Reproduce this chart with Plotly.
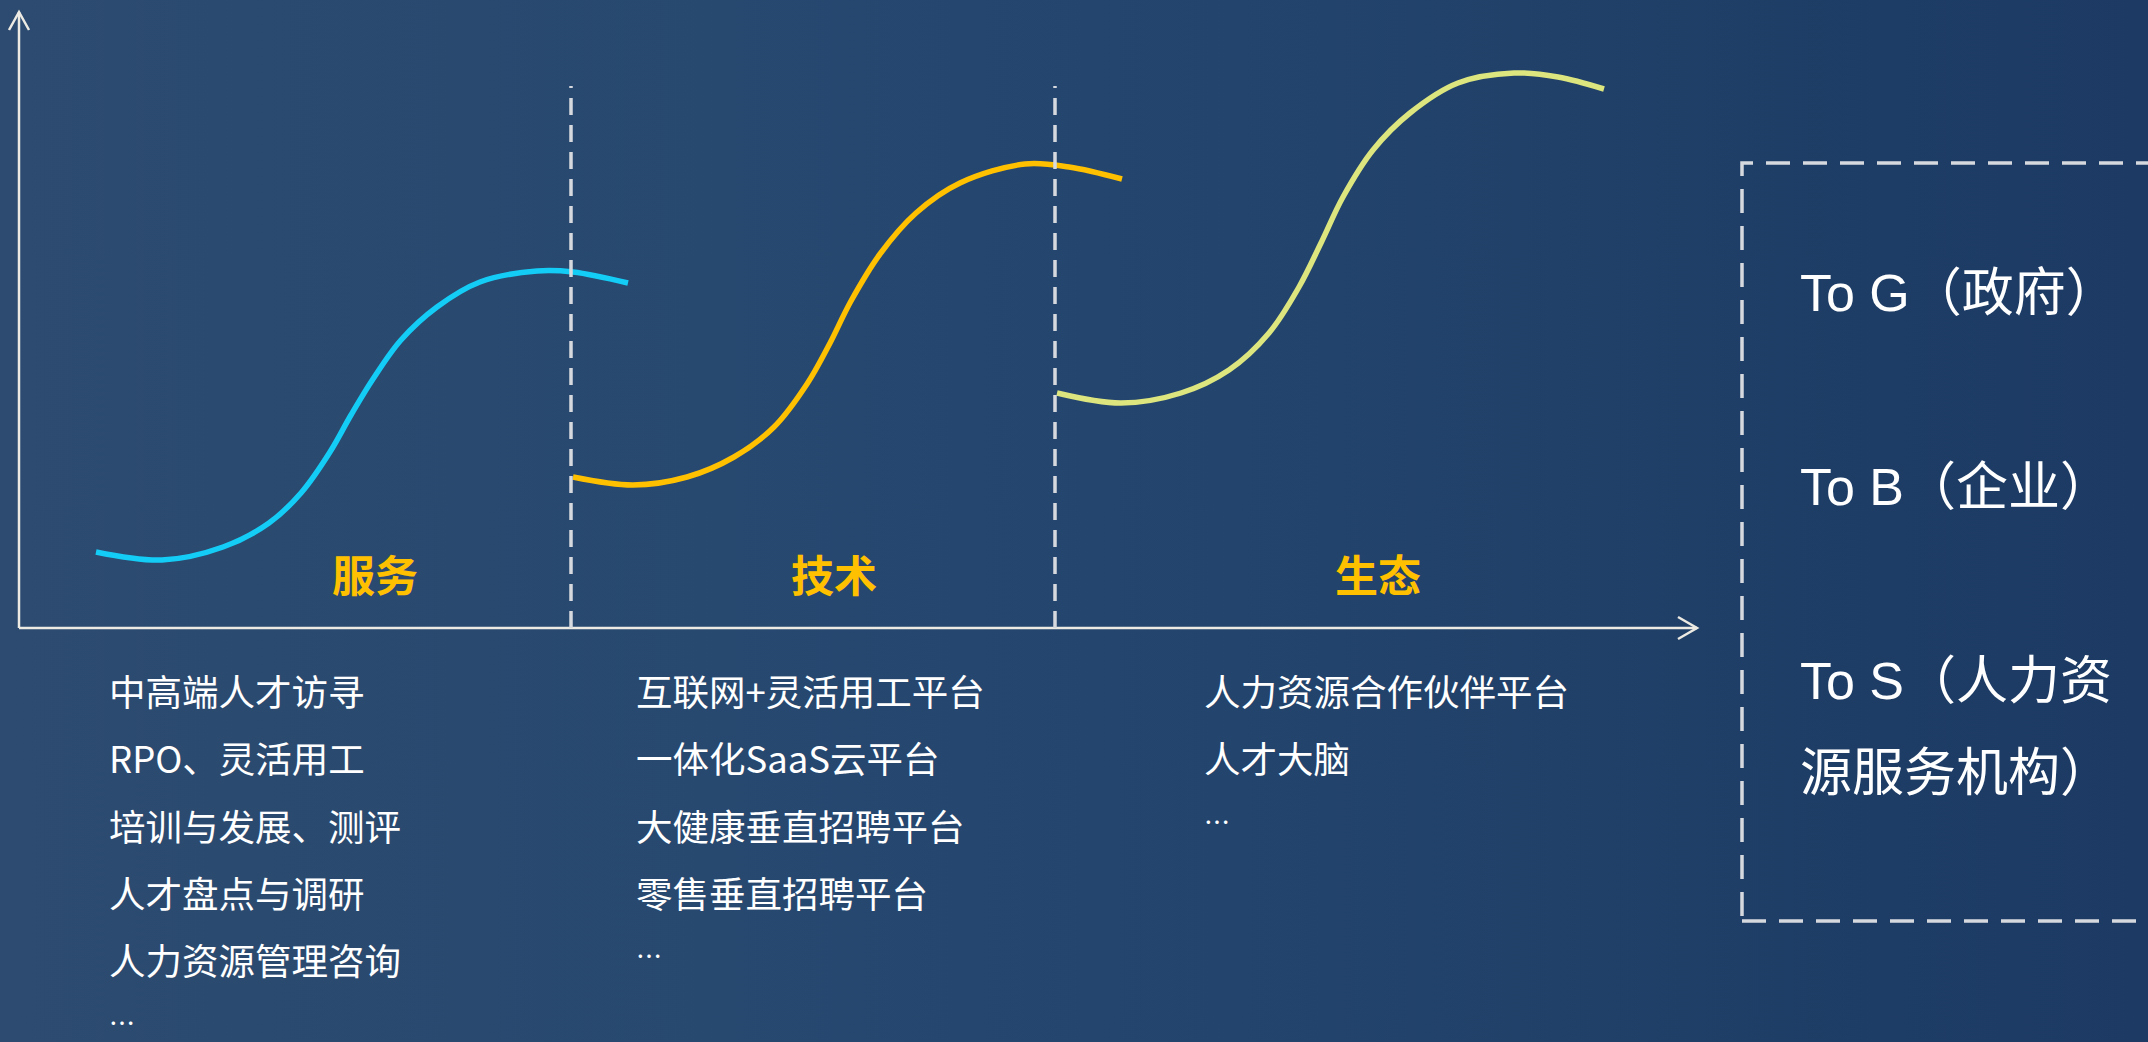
import plotly.graph_objects as go

# ---- data (schematic units: x to the right of the y-axis, y above the x-axis) ----
stage_names = ["服务", "技术", "生态"]
stage_label_x = [356, 815, 1359]
stage_label_y = 55

blue_x = [77, 143, 204, 250, 282, 311, 332, 354, 382, 418, 461, 518, 554, 609]
blue_y = [76, 68, 81, 105, 135, 176, 213, 249, 288, 321, 346, 357, 356, 345]

orange_x = [554, 614, 668, 715, 755, 788, 810, 832, 861, 897, 941, 1006, 1050, 1103]
orange_y = [151, 143, 151, 171, 201, 244, 283, 327, 374, 415, 445, 464, 461, 449]

green_x = [1038, 1102, 1162, 1210, 1250, 1280, 1302, 1324, 1354, 1391, 1439, 1495, 1539, 1585]
green_y = [235, 225, 235, 258, 295, 341, 385, 431, 478, 515, 545, 555, 551, 539]

divider_x = [552, 1036]
divider_top = 542

col1_items = ["中高端人才访寻", "RPO、灵活用工", "培训与发展、测评", "人才盘点与调研", "人力资源管理咨询", "…"]
col2_items = ["互联网+灵活用工平台", "一体化SaaS云平台", "大健康垂直招聘平台", "零售垂直招聘平台", "…"]
col3_items = ["人力资源合作伙伴平台", "人才大脑", "…"]
col_x = [88, 615, 1183]
row_y = [-62, -129, -197, -264, -331, -398]

target_items = ["To G（政府）", "To B（企业）", "To S（人力资", "源服务机构）"]
target_x = 1779
target_y = [335, 141, -53, -145]
box_left, box_right, box_top, box_bottom = 1723, 2145, 465, -293

x_range = [-19, 2129]
y_range = [-414, 628]
y_axis_top = 616
x_axis_end = 1678

AXIS_COLOR = "#ECEAE2"
DASH_COLOR = "#D6D9DE"

fig = go.Figure()

# background gradient
fig.add_trace(go.Scatter(
    x=[x_range[0], x_range[1], x_range[1], x_range[0], x_range[0]],
    y=[y_range[0], y_range[0], y_range[1], y_range[1], y_range[0]],
    mode="lines", line=dict(width=0), fill="toself",
    fillgradient=dict(type="horizontal",
                      colorscale=[[0, "#2d4b70"], [0.45, "#25476f"], [1, "#1c3a63"]]),
    hoverinfo="skip", showlegend=False))

# curves
for xs, ys, col in [(blue_x, blue_y, "#14CDF7"),
                    (orange_x, orange_y, "#FFC000"),
                    (green_x, green_y, "#DCE57E")]:
    fig.add_trace(go.Scatter(x=xs, y=ys, mode="lines",
                             line=dict(color=col, width=5.5, shape="spline", smoothing=1.0),
                             hoverinfo="skip", showlegend=False))

shapes = []
# axes
shapes.append(dict(type="line", x0=0, y0=0, x1=0, y1=y_axis_top, line=dict(color=AXIS_COLOR, width=2.5)))
shapes.append(dict(type="line", x0=0, y0=0, x1=x_axis_end, y1=0, line=dict(color=AXIS_COLOR, width=2.5)))
shapes.append(dict(type="path",
                   path=f"M -10 {y_axis_top-18} L 0 {y_axis_top} L 10 {y_axis_top-18}",
                   line=dict(color=AXIS_COLOR, width=2.5)))
shapes.append(dict(type="path",
                   path=f"M {x_axis_end-19} 11 L {x_axis_end} 0 L {x_axis_end-19} -11",
                   line=dict(color=AXIS_COLOR, width=2.5)))
# dividers
for dx in divider_x:
    shapes.append(dict(type="line", x0=dx, y0=0, x1=dx, y1=divider_top,
                       line=dict(color=DASH_COLOR, width=3.5, dash="17px,10px")))
# right dashed box
shapes.append(dict(type="rect", x0=box_left, x1=box_right, y0=box_bottom, y1=box_top,
                   line=dict(color=DASH_COLOR, width=3.5, dash="24px,13px")))

annotations = []
for name, sx in zip(stage_names, stage_label_x):
    annotations.append(dict(x=sx, y=stage_label_y, text=f"<b>{name}</b>", showarrow=False,
                            font=dict(family="Noto Sans CJK SC", size=43, color="#FFC000"),
                            xanchor="center", yanchor="middle"))

for cx, items in zip(col_x, [col1_items, col2_items, col3_items]):
    for ry, txt in zip(row_y, items):
        if txt == "…":
            annotations.append(dict(x=cx, y=ry, text=txt, showarrow=False,
                                    font=dict(family="Noto Sans CJK SC", size=26, color="#FFFFFF"),
                                    xanchor="left", yanchor="middle", yshift=5))
        else:
            annotations.append(dict(x=cx, y=ry, text=txt, showarrow=False,
                                    font=dict(family="Noto Sans CJK SC", size=36.5, color="#FFFFFF"),
                                    xanchor="left", yanchor="middle"))

for ty, txt in zip(target_y, target_items):
    annotations.append(dict(x=target_x, y=ty, text=txt, showarrow=False,
                            font=dict(family="Liberation Sans, Noto Sans CJK SC", size=52, color="#FFFFFF"),
                            xanchor="left", yanchor="middle"))

fig.update_layout(
    width=2148, height=1042,
    margin=dict(l=0, r=0, t=0, b=0),
    paper_bgcolor="#24446c", plot_bgcolor="#24446c",
    xaxis=dict(range=x_range, visible=False, fixedrange=True),
    yaxis=dict(range=y_range, visible=False, fixedrange=True),
    shapes=shapes, annotations=annotations, showlegend=False,
)

fig.write_html("out.html", config={"displayModeBar": False},
               post_script="document.body.style.margin='0';document.body.style.overflow='hidden';")
